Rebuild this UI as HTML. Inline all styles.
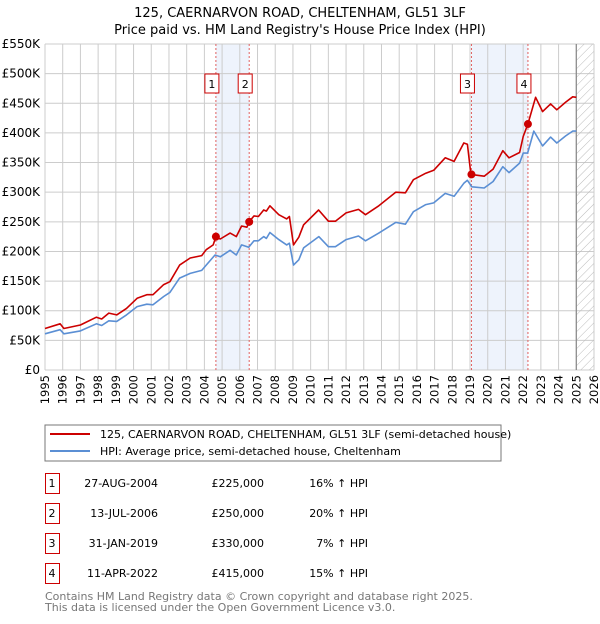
<!DOCTYPE html>
<html><head><meta charset="utf-8"><style>
body{margin:0;background:#fff;font-family:"DejaVu Sans","Liberation Sans",sans-serif;}
svg text{font-family:"DejaVu Sans","Liberation Sans",sans-serif;}
</style></head><body>
<svg id="c" width="600" height="620" xmlns="http://www.w3.org/2000/svg">
<defs><pattern id="hatch" width="6" height="6" patternUnits="userSpaceOnUse" patternTransform="rotate(45)"><line x1="0" y1="0" x2="0" y2="6" stroke="#bbb" stroke-width="1"/></pattern></defs>
<text x="300" y="17" text-anchor="middle" font-size="13" fill="#000">125, CAERNARVON ROAD, CHELTENHAM, GL51 3LF</text>
<text x="300" y="34" text-anchor="middle" font-size="13" fill="#000">Price paid vs. HM Land Registry's House Price Index (HPI)</text>
<g id="plot"></g>
<rect x="45" y="425" width="456" height="36" fill="#fff" stroke="#777"/>
<line x1="50" y1="434" x2="90" y2="434" stroke="#cc0000" stroke-width="2"/>
<text x="100" y="438" font-size="11">125, CAERNARVON ROAD, CHELTENHAM, GL51 3LF (semi-detached house)</text>
<line x1="50" y1="451" x2="90" y2="451" stroke="#5b8fd4" stroke-width="2"/>
<text x="100" y="455" font-size="11">HPI: Average price, semi-detached house, Cheltenham</text>
<g id="table" font-size="11"></g>
<text x="45" y="600" font-size="11" fill="#777">Contains HM Land Registry data © Crown copyright and database right 2025.</text>
<text x="45" y="611" font-size="11" fill="#777">This data is licensed under the Open Government Licence v3.0.</text>
</svg>
<script>
const hpiYears=[1995,1995.85,1996.07,1997,1997.9,1998.2,1998.6,1999.05,1999.6,2000.2,2000.75,2001.1,2001.7,2002.05,2002.6,2003.2,2003.85,2004.1,2004.6,2004.9,2005.45,2005.8,2006.1,2006.5,2006.8,2007.05,2007.35,2007.5,2007.7,2008.2,2008.65,2008.8,2009.03,2009.33,2009.6,2010.46,2011,2011.4,2012,2012.7,2013.1,2013.85,2014.8,2015.35,2015.8,2016.5,2016.95,2017.6,2018.1,2018.65,2018.85,2019.1,2019.8,2020.3,2020.85,2021.2,2021.8,2022,2022.25,2022.6,2023.1,2023.55,2023.9,2024.4,2024.8,2025];
const hpiValues=[61,68,61,66,78,75,83,82,93,107,111,110,124,131,155,163,168,177,194,191,202,194,211,207,218,218,225,222,232,220,211,214,177,186,206,225,208,208,220,226,218,231,249,246,267,279,282,298,293,315,320,309,307,318,343,333,349,366,366,403,378,393,383,395,403,403];
const priceYears=[1995,1995.85,1996.07,1997,1997.9,1998.2,1998.6,1999.05,1999.6,2000.2,2000.75,2001.1,2001.7,2002.05,2002.6,2003.2,2003.85,2004.1,2004.5,2004.65,2004.9,2005.45,2005.8,2006.1,2006.4,2006.53,2006.8,2007.05,2007.35,2007.5,2007.7,2008.2,2008.65,2008.8,2009.03,2009.33,2009.6,2010.45,2011,2011.4,2012,2012.7,2013.1,2013.85,2014.8,2015.35,2015.8,2016.5,2016.95,2017.6,2018.1,2018.65,2018.85,2019.05,2019.8,2020.3,2020.85,2021.2,2021.8,2022,2022.27,2022.7,2023.1,2023.55,2023.9,2024.4,2024.8,2025];
const priceValues=[70,78,70,76,89,86,96,93,104,121,127,127,144,149,177,189,193,203,211,225,221,231,225,243,241,250,260,259,270,268,277,262,255,259,211,224,245,270,251,251,265,271,262,277,300,299,321,332,337,358,352,383,381,330,327,339,370,358,367,394,415,460,436,449,439,452,461,460];
const saleYears=[2004.65,2006.53,2019.08,2022.27];
const salePrices=[225,250,330,415];
const saleLabels=["1","2","3","4"];
const saleDates=["27-AUG-2004","13-JUL-2006","31-JAN-2019","11-APR-2022"];
const salePriceText=["£225,000","£250,000","£330,000","£415,000"];
const saleHpiText=["16% ↑ HPI","20% ↑ HPI","7% ↑ HPI","15% ↑ HPI"];
const yTicks=[0,50,100,150,200,250,300,350,400,450,500,550];
const yTickLabels=["£0","£50K","£100K","£150K","£200K","£250K","£300K","£350K","£400K","£450K","£500K","£550K"];
const xTicks=[1995,1996,1997,1998,1999,2000,2001,2002,2003,2004,2005,2006,2007,2008,2009,2010,2011,2012,2013,2014,2015,2016,2017,2018,2019,2020,2021,2022,2023,2024,2025,2026];

const X0=45,X1=594,Y0=370,Y1=44,YMIN=1995,YMAX=2026,VMAX=550;
const xs=y=>X0+(y-YMIN)/(YMAX-YMIN)*(X1-X0);
const ys=v=>Y0-v/VMAX*(Y0-Y1);
const NS="http://www.w3.org/2000/svg";
const plot=document.getElementById('plot');
function mk(tag,attrs,parent){const e=document.createElementNS(NS,tag);for(const k in attrs)e.setAttribute(k,attrs[k]);(parent||plot).appendChild(e);return e;}

for(let i=0;i<saleYears.length;i+=2){
  const b=mk('rect',{x:xs(saleYears[i]),y:Y1,width:xs(saleYears[i+1])-xs(saleYears[i]),height:Y0-Y1,fill:'#eef3fc'});
  
  
}
yTicks.forEach((t,i)=>{
  const l=mk('line',{x1:X0,x2:X1,y1:ys(t),y2:ys(t),stroke:'#ccc','stroke-width':1});
  
  
  const tx=mk('text',{x:40,y:ys(t)+4,'text-anchor':'end','font-size':12});
  tx.textContent=yTickLabels[i];
  
  
});
xTicks.forEach(t=>{
  const l=mk('line',{x1:xs(t),x2:xs(t),y1:Y1,y2:Y0,stroke:'#ccc','stroke-width':1});
  
  
  const x=xs(t)+4,y=375;
  const tx=mk('text',{x:x,y:y,'text-anchor':'end','font-size':11.5,transform:'rotate(-90 '+x+' '+y+')'});
  tx.textContent=t;
  
  
});
const h=mk('rect',{x:xs(2025),y:Y1,width:X1-xs(2025),height:Y0-Y1,fill:'url(#hatch)'});


const hl=mk('line',{x1:xs(2025),x2:xs(2025),y1:Y1,y2:Y0,stroke:'#888','stroke-width':1.2});


saleYears.forEach((s,i)=>{
  const l=mk('line',{x1:xs(s),x2:xs(s),y1:Y1,y2:Y0,stroke:'#e06060','stroke-width':1,'stroke-dasharray':'2,2'});
  
  
  const r=mk('rect',{x:xs(s)-11,y:74,width:14,height:19,fill:'#fff',stroke:'#cc0000','stroke-width':1});
  
  
  const t=mk('text',{x:xs(s)-4,y:88,'text-anchor':'middle','font-size':11});
  t.textContent=saleLabels[i];
  
  
});
function path(xa,va,color,name){
  const d=xa.map((y,i)=>(i?'L':'M')+xs(y).toFixed(1)+','+ys(va[i]).toFixed(1)).join('');
  const p=mk('path',{d:d,fill:'none',stroke:color,'stroke-width':1.6,'stroke-linejoin':'round'});
  
  
}
path(hpiYears,hpiValues,'#5b8fd4','hpi-line');
path(priceYears,priceValues,'#cc0000','price-line');
saleYears.forEach((s,i)=>{
  const c=mk('circle',{cx:xs(s),cy:ys(salePrices[i]),r:4,fill:'#cc0000'});
  
  
});
const tb=document.getElementById('table');
saleLabels.forEach((lb,i)=>{
  const y=483+i*30;
  const r=mk('rect',{x:45.5,y:y-9.5,width:14,height:20,fill:'#fff',stroke:'#cc0000'},tb);
  
  
  const t0=mk('text',{x:52,y:y+4,'text-anchor':'middle'},tb);t0.textContent=lb;
  
  
  const t1=mk('text',{x:158,y:y+4,'text-anchor':'end'},tb);t1.textContent=saleDates[i];
  
  
  const t2=mk('text',{x:264,y:y+4,'text-anchor':'end'},tb);t2.textContent=salePriceText[i];
  
  
  const t3=mk('text',{x:368,y:y+4,'text-anchor':'end'},tb);t3.textContent=saleHpiText[i];
  
  
});
</script>
</body></html>
